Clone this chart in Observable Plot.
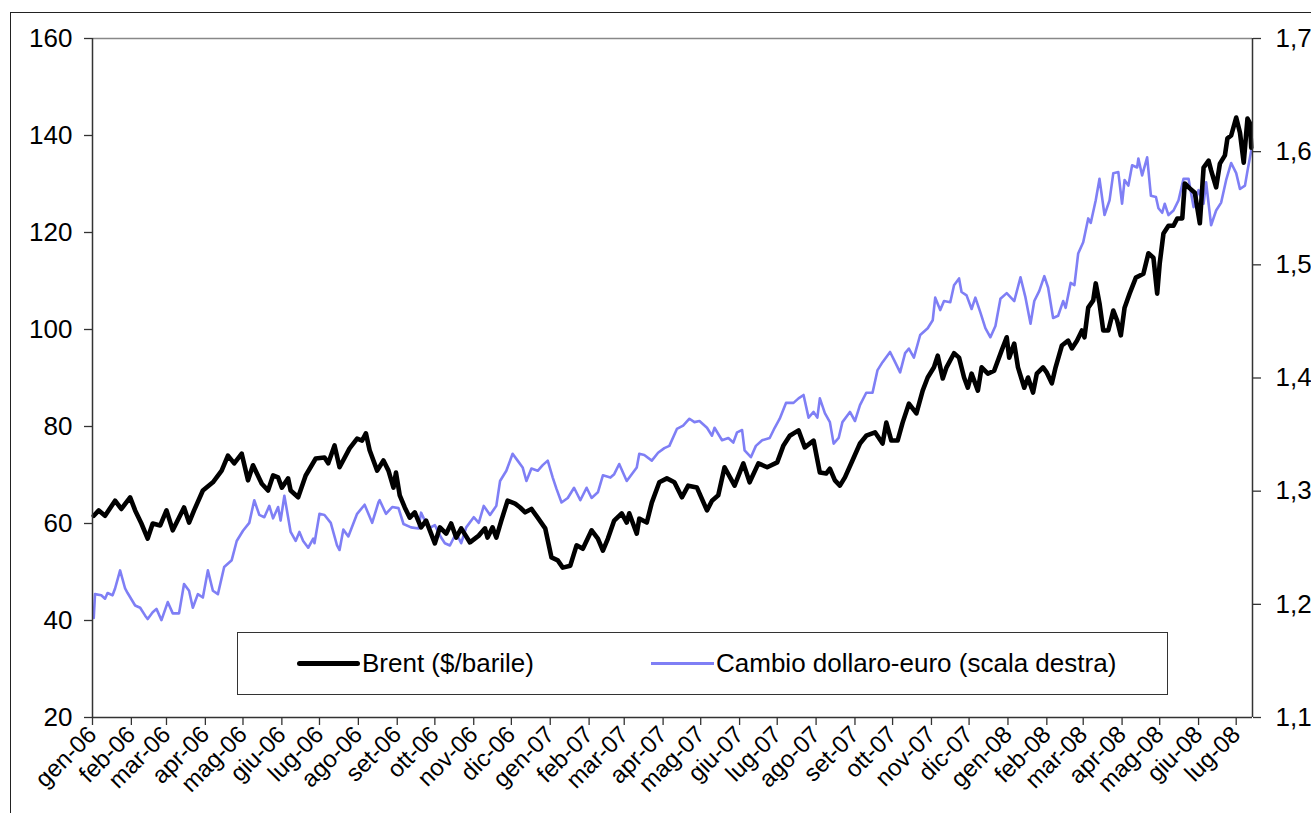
<!DOCTYPE html>
<html>
<head>
<meta charset="utf-8">
<script src="https://cdn.jsdelivr.net/npm/d3@7"></script>
<script src="https://cdn.jsdelivr.net/npm/@observablehq/plot@0.6"></script>
<style>
  html, body { margin: 0; padding: 0; background: #fff; overflow: hidden; }
  #wrap { position: relative; width: 1311px; height: 813px; overflow: hidden; font-family: "Liberation Sans", Arial, sans-serif; }
  #frame { position: absolute; left: 10px; top: 12px; width: 1400px; height: 900px; border: 1.5px solid #222; box-sizing: border-box; }
  #chart { position: absolute; left: 0; top: 0; }
  #legend { position: absolute; left: 237px; top: 632px; width: 931px; height: 63px; border: 1.5px solid #333; box-sizing: border-box; background: #fff; }
  .item { position: absolute; top: 0; height: 60px; display: flex; align-items: center; font-size: 26px; color: #000; white-space: nowrap; }
  .swatch { display: inline-block; width: 63px; margin-right: 2px; }
</style>
</head>
<body>
<div id="wrap">
  <div id="frame"></div>
  <div id="chart"></div>
  <div id="legend">
    <div class="item" style="left:59px"><span class="swatch" style="height:5px;background:#000;border-radius:3px"></span>Brent ($/barile)</div>
    <div class="item" style="left:413px"><span class="swatch" style="height:3px;background:#7f7ff5"></span>Cambio dollaro-euro (scala destra)</div>
  </div>
</div>
<script>
// Brent price ($/barrel)
const brent = [
["2006-01-02",61.6],["2006-01-06",62.7],["2006-01-11",61.6],["2006-01-19",64.7],["2006-01-24",63.0],["2006-01-31",65.4],["2006-02-04",62.7],["2006-02-09",60.0],["2006-02-14",56.9],["2006-02-18",60.0],["2006-02-24",59.6],["2006-03-01",62.7],["2006-03-06",58.6],["2006-03-15",63.3],["2006-03-19",60.2],["2006-03-23",62.7],["2006-03-30",66.8],["2006-04-07",68.5],["2006-04-14",70.9],["2006-04-19",74.0],["2006-04-24",72.4],["2006-04-30",74.4],["2006-05-05",68.9],["2006-05-09",72.0],["2006-05-16",68.2],["2006-05-21",66.8],["2006-05-25",69.9],["2006-05-29",69.5],["2006-06-01",67.4],["2006-06-06",69.3],["2006-06-08",66.8],["2006-06-14",65.4],["2006-06-20",69.9],["2006-06-28",73.4],["2006-07-05",73.6],["2006-07-08",72.4],["2006-07-13",76.1],["2006-07-17",71.6],["2006-07-25",75.5],["2006-07-31",77.5],["2006-08-04",77.1],["2006-08-07",78.6],["2006-08-10",75.1],["2006-08-16",70.9],["2006-08-21",73.0],["2006-08-25",70.9],["2006-08-29",67.4],["2006-08-31",70.5],["2006-09-03",65.8],["2006-09-07",63.3],["2006-09-11",61.2],["2006-09-15",62.3],["2006-09-20",59.2],["2006-09-24",60.6],["2006-10-01",55.9],["2006-10-05",59.2],["2006-10-10",57.9],["2006-10-14",60.0],["2006-10-18",57.1],["2006-10-22",59.0],["2006-10-29",56.1],["2006-11-05",57.5],["2006-11-10",59.0],["2006-11-12",57.1],["2006-11-16",59.2],["2006-11-19",57.1],["2006-11-23",60.6],["2006-11-28",64.7],["2006-12-04",64.1],["2006-12-08",63.3],["2006-12-12",62.3],["2006-12-17",63.0],["2006-12-22",61.2],["2006-12-28",59.0],
["2007-01-02",53.0],["2007-01-07",52.4],["2007-01-11",50.9],["2007-01-17",51.3],["2007-01-22",55.5],["2007-01-27",54.8],["2007-02-03",58.6],["2007-02-08",56.9],["2007-02-12",54.4],["2007-02-16",56.9],["2007-02-21",60.6],["2007-02-27",62.1],["2007-03-03",60.2],["2007-03-05",62.1],["2007-03-11",57.9],["2007-03-13",61.0],["2007-03-19",60.2],["2007-03-23",64.3],["2007-03-29",68.5],["2007-04-04",69.3],["2007-04-10",68.5],["2007-04-16",65.4],["2007-04-21",67.8],["2007-04-28",67.4],["2007-05-06",62.7],["2007-05-10",64.7],["2007-05-15",65.8],["2007-05-20",71.6],["2007-05-28",67.8],["2007-06-04",72.4],["2007-06-09",68.5],["2007-06-16",72.4],["2007-06-23",71.6],["2007-07-01",72.6],["2007-07-06",76.1],["2007-07-11",78.1],["2007-07-18",79.2],["2007-07-23",75.7],["2007-07-30",77.1],["2007-08-04",70.5],["2007-08-09",70.3],["2007-08-12",71.3],["2007-08-16",68.9],["2007-08-20",67.8],["2007-08-24",69.5],["2007-08-30",73.0],["2007-09-05",76.5],["2007-09-10",78.1],["2007-09-17",78.8],["2007-09-23",76.5],["2007-09-26",80.8],["2007-09-30",77.1],["2007-10-05",77.1],["2007-10-09",80.8],["2007-10-14",84.7],["2007-10-20",82.7],["2007-10-25",87.4],["2007-10-29",90.1],["2007-11-03",92.2],["2007-11-06",94.6],["2007-11-10",89.9],["2007-11-13",92.2],["2007-11-19",95.1],["2007-11-23",94.2],["2007-11-27",90.1],["2007-11-30",88.0],["2007-12-03",90.9],["2007-12-08",87.4],["2007-12-11",92.2],["2007-12-16",90.9],["2007-12-21",91.5],["2007-12-27",95.7],["2007-12-31",98.4],
["2008-01-02",94.2],["2008-01-06",97.1],["2008-01-09",92.2],["2008-01-14",88.0],["2008-01-17",90.1],["2008-01-21",87.0],["2008-01-24",90.9],["2008-01-29",92.2],["2008-02-01",91.1],["2008-02-05",88.9],["2008-02-08",92.2],["2008-02-13",96.7],["2008-02-18",97.7],["2008-02-21",96.1],["2008-02-25",97.7],["2008-02-29",99.8],["2008-03-02",98.4],["2008-03-05",104.5],["2008-03-09",106.0],["2008-03-11",109.5],["2008-03-14",105.4],["2008-03-17",99.8],["2008-03-21",99.8],["2008-03-25",103.9],["2008-03-28",101.9],["2008-03-31",98.8],["2008-04-03",104.5],["2008-04-07",107.4],["2008-04-12",110.7],["2008-04-18",111.5],["2008-04-22",115.7],["2008-04-26",114.8],["2008-04-29",107.4],["2008-05-01",113.6],["2008-05-04",119.8],["2008-05-08",121.4],["2008-05-12",121.4],["2008-05-15",122.9],["2008-05-19",122.9],["2008-05-21",130.1],["2008-05-25",129.1],["2008-05-29",128.2],["2008-06-02",121.9],["2008-06-05",133.4],["2008-06-09",134.8],["2008-06-11",132.8],["2008-06-15",129.3],["2008-06-18",134.2],["2008-06-22",135.9],["2008-06-24",139.4],["2008-06-27",140.0],["2008-07-01",143.7],["2008-07-04",140.6],["2008-07-07",134.4],["2008-07-10",143.5],["2008-07-12",142.5],["2008-07-13",137.5]
];

// Dollar-euro exchange rate (right scale)
const cambio = [
["2006-01-02",1.188],["2006-01-03",1.209],["2006-01-08",1.208],["2006-01-11",1.205],["2006-01-13",1.210],["2006-01-17",1.208],["2006-01-19",1.214],["2006-01-23",1.230],["2006-01-27",1.214],["2006-01-29",1.210],["2006-02-04",1.199],["2006-02-08",1.197],["2006-02-12",1.190],["2006-02-14",1.187],["2006-02-18",1.193],["2006-02-21",1.196],["2006-02-25",1.186],["2006-03-02",1.202],["2006-03-06",1.192],["2006-03-11",1.192],["2006-03-15",1.218],["2006-03-19",1.212],["2006-03-22",1.197],["2006-03-26",1.209],["2006-03-30",1.206],["2006-04-03",1.230],["2006-04-07",1.212],["2006-04-11",1.209],["2006-04-16",1.233],["2006-04-22",1.239],["2006-04-26",1.256],["2006-05-01",1.265],["2006-05-06",1.272],["2006-05-10",1.292],["2006-05-14",1.279],["2006-05-18",1.277],["2006-05-22",1.287],["2006-05-25",1.276],["2006-05-29",1.286],["2006-05-31",1.274],["2006-06-03",1.296],["2006-06-08",1.264],["2006-06-12",1.256],["2006-06-15",1.264],["2006-06-18",1.256],["2006-06-22",1.250],["2006-06-26",1.258],["2006-06-27",1.254],["2006-07-01",1.280],["2006-07-05",1.279],["2006-07-10",1.272],["2006-07-15",1.252],["2006-07-17",1.248],["2006-07-20",1.266],["2006-07-24",1.260],["2006-07-31",1.280],["2006-08-06",1.288],["2006-08-12",1.272],["2006-08-17",1.290],["2006-08-18",1.292],["2006-08-23",1.280],["2006-08-28",1.286],["2006-09-02",1.285],["2006-09-06",1.271],["2006-09-12",1.268],["2006-09-18",1.267],["2006-09-20",1.281],["2006-09-26",1.267],["2006-10-01",1.270],["2006-10-06",1.259],["2006-10-09",1.254],["2006-10-13",1.252],["2006-10-18",1.263],["2006-10-22",1.254],["2006-10-26",1.268],["2006-11-01",1.277],["2006-11-05",1.272],["2006-11-09",1.287],["2006-11-14",1.279],["2006-11-19",1.287],["2006-11-22",1.309],["2006-11-27",1.318],["2006-12-02",1.333],["2006-12-06",1.327],["2006-12-10",1.321],["2006-12-13",1.309],["2006-12-17",1.320],["2006-12-22",1.318],["2006-12-26",1.323],["2006-12-30",1.327],
["2007-01-03",1.312],["2007-01-06",1.302],["2007-01-10",1.290],["2007-01-15",1.294],["2007-01-20",1.303],["2007-01-25",1.292],["2007-01-30",1.303],["2007-02-03",1.294],["2007-02-08",1.299],["2007-02-12",1.314],["2007-02-18",1.312],["2007-02-21",1.315],["2007-02-25",1.324],["2007-03-03",1.309],["2007-03-07",1.315],["2007-03-11",1.321],["2007-03-13",1.333],["2007-03-17",1.332],["2007-03-23",1.327],["2007-03-28",1.334],["2007-04-02",1.338],["2007-04-06",1.340],["2007-04-12",1.355],["2007-04-17",1.358],["2007-04-22",1.364],["2007-04-26",1.361],["2007-04-30",1.362],["2007-05-06",1.356],["2007-05-10",1.349],["2007-05-12",1.356],["2007-05-18",1.345],["2007-05-23",1.347],["2007-05-27",1.343],["2007-05-30",1.352],["2007-06-03",1.354],["2007-06-05",1.336],["2007-06-10",1.330],["2007-06-14",1.340],["2007-06-19",1.345],["2007-06-25",1.347],["2007-06-29",1.356],["2007-07-03",1.364],["2007-07-08",1.378],["2007-07-14",1.378],["2007-07-18",1.382],["2007-07-22",1.385],["2007-07-26",1.365],["2007-07-30",1.370],["2007-08-02",1.365],["2007-08-04",1.382],["2007-08-08",1.369],["2007-08-12",1.361],["2007-08-15",1.342],["2007-08-19",1.347],["2007-08-22",1.361],["2007-08-28",1.370],["2007-09-01",1.362],["2007-09-05",1.376],["2007-09-10",1.387],["2007-09-15",1.387],["2007-09-19",1.407],["2007-09-23",1.414],["2007-09-29",1.423],["2007-10-03",1.414],["2007-10-07",1.405],["2007-10-11",1.422],["2007-10-14",1.426],["2007-10-18",1.418],["2007-10-23",1.438],["2007-10-29",1.444],["2007-11-02",1.451],["2007-11-04",1.471],["2007-11-08",1.460],["2007-11-11",1.468],["2007-11-16",1.467],["2007-11-19",1.482],["2007-11-23",1.488],["2007-11-25",1.476],["2007-11-29",1.473],["2007-12-03",1.461],["2007-12-06",1.471],["2007-12-10",1.458],["2007-12-14",1.444],["2007-12-18",1.436],["2007-12-22",1.446],["2007-12-26",1.470],["2007-12-31",1.475],
["2008-01-06",1.468],["2008-01-11",1.489],["2008-01-15",1.471],["2008-01-19",1.448],["2008-01-22",1.468],["2008-01-26",1.477],["2008-01-30",1.490],["2008-02-02",1.480],["2008-02-06",1.453],["2008-02-10",1.455],["2008-02-14",1.468],["2008-02-16",1.462],["2008-02-20",1.484],["2008-02-23",1.482],["2008-02-26",1.510],["2008-03-01",1.520],["2008-03-05",1.541],["2008-03-07",1.537],["2008-03-11",1.557],["2008-03-14",1.576],["2008-03-18",1.544],["2008-03-22",1.557],["2008-03-25",1.581],["2008-03-29",1.582],["2008-04-01",1.554],["2008-04-03",1.575],["2008-04-06",1.570],["2008-04-09",1.588],["2008-04-13",1.586],["2008-04-14",1.594],["2008-04-17",1.579],["2008-04-21",1.595],["2008-04-24",1.561],["2008-04-28",1.560],["2008-04-30",1.550],["2008-05-03",1.546],["2008-05-05",1.554],["2008-05-08",1.544],["2008-05-12",1.548],["2008-05-16",1.557],["2008-05-20",1.576],["2008-05-24",1.576],["2008-05-28",1.551],["2008-06-01",1.566],["2008-06-05",1.554],["2008-06-07",1.573],["2008-06-11",1.535],["2008-06-15",1.548],["2008-06-19",1.555],["2008-06-23",1.575],["2008-06-27",1.590],["2008-07-01",1.581],["2008-07-04",1.567],["2008-07-08",1.570],["2008-07-10",1.583],["2008-07-13",1.601]
];

const leftTicks = [20, 40, 60, 80, 100, 120, 140, 160];
const rightTicks = [1.1, 1.2, 1.3, 1.4, 1.5, 1.6, 1.7];
const mesi = ["gen","feb","mar","apr","mag","giu","lug","ago","set","ott","nov","dic"];

const leftDomain = [20, 160];
const rightDomain = [1.1, 1.7];
const toLeft = v => leftDomain[0] + (v - rightDomain[0]) / (rightDomain[1] - rightDomain[0]) * (leftDomain[1] - leftDomain[0]);
const fromLeft = v => rightDomain[0] + (v - leftDomain[0]) / (leftDomain[1] - leftDomain[0]) * (rightDomain[1] - rightDomain[0]);

const xStart = new Date(Date.UTC(2006, 0, 1));
const xEnd = new Date(Date.UTC(2008, 6, 14));
const monthTicks = d3.utcMonth.range(xStart, new Date(Date.UTC(2008, 6, 2)));
const parse = s => new Date(s + "T00:00:00Z");

const chart = Plot.plot({
  width: 1311,
  height: 813,
  marginLeft: 92,
  marginRight: 59,
  marginTop: 38,
  marginBottom: 96,
  style: { fontFamily: "'Liberation Sans', Arial, sans-serif", color: "#000", background: "transparent", overflow: "visible" },
  x: { type: "utc", domain: [xStart, xEnd] },
  y: { domain: leftDomain },
  marks: [
    Plot.ruleY([leftDomain[1]], { stroke: "#888", strokeWidth: 1.5 }),
    Plot.lineY(cambio, { x: d => parse(d[0]), y: d => toLeft(d[1]), stroke: "#7f7ff5", strokeWidth: 2.6, strokeLinejoin: "round" }),
    Plot.lineY(brent, { x: d => parse(d[0]), y: d => d[1], stroke: "#000", strokeWidth: 4.6, strokeLinejoin: "round", strokeLinecap: "round" }),
    Plot.ruleX([xStart], { stroke: "#333", strokeWidth: 1.5 }),
    Plot.ruleX([xEnd], { stroke: "#333", strokeWidth: 1.5 }),
    Plot.ruleY([leftDomain[0]], { stroke: "#333", strokeWidth: 1.5 }),
    Plot.axisY({ anchor: "left", ticks: leftTicks, tickSize: 8, tickPadding: 12, tickFormat: d => String(d), fontSize: 26, stroke: "#333", strokeWidth: 1.3 }),
    Plot.axisY({ anchor: "right", ticks: rightTicks.map(toLeft), tickSize: 8, tickPadding: 15, tickFormat: d => fromLeft(d).toFixed(1).replace(".", ","), fontSize: 26, stroke: "#333", strokeWidth: 1.3 }),
    Plot.axisX({ ticks: monthTicks, tickSize: 8, tickPadding: 5, tickRotate: -45, tickFormat: d => mesi[d.getUTCMonth()] + "-" + String(d.getUTCFullYear()).slice(2), fontSize: 24, stroke: "#333", strokeWidth: 1.3 })
  ]
});
document.getElementById("chart").appendChild(chart);
</script>
</body>
</html>
